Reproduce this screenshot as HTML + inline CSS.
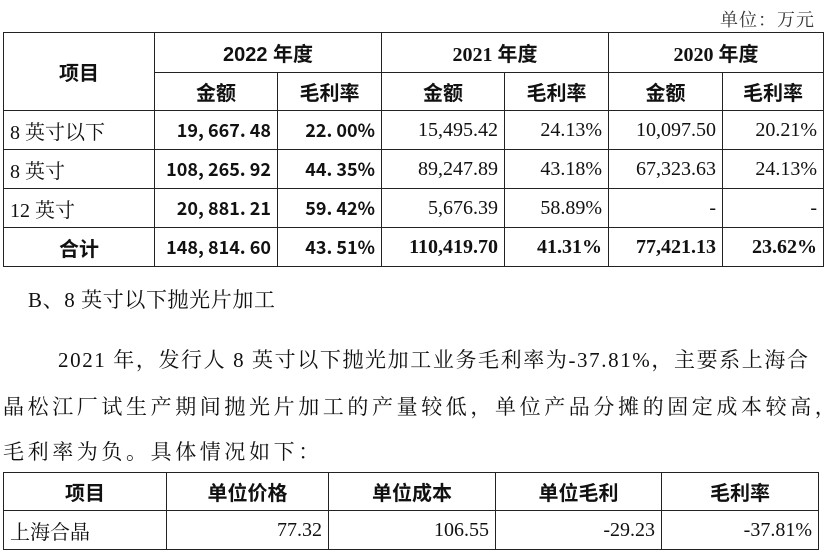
<!DOCTYPE html>
<html><head><meta charset="utf-8"><style>
body{margin:0;width:827px;height:555px;background:#fff;position:relative;overflow:hidden;font-family:"Liberation Serif","Noto Serif CJK SC",serif;color:#111}
table{position:absolute;border-collapse:collapse;table-layout:fixed}
td{border:1.3px solid #222;padding:0 6px;font-size:20px;white-space:nowrap}
.c{text-align:center}.r{text-align:right}.l{text-align:left}
.h{font-family:"Liberation Sans","Noto Sans CJK SC",sans-serif;font-weight:bold;font-size:20px}
.m{font-family:"Noto Sans CJK SC",sans-serif;font-weight:bold;font-size:18px}
.b{font-weight:bold}
.t{position:absolute;font-size:21px;white-space:nowrap;letter-spacing:3.6px}
</style></head><body>
<div class="t" style="right:12px;top:6px;font-size:18px;color:#333;letter-spacing:1px">单位：万元</div>
<table style="left:3px;top:32px;width:820px">
<colgroup><col style="width:151px"><col style="width:123px"><col style="width:104px"><col style="width:123px"><col style="width:104px"><col style="width:114px"><col style="width:101px"></colgroup>
<tr style="height:40px"><td rowspan="2" class="c h">项目</td><td colspan="2" class="c h">2022 年度</td><td colspan="2" class="c h" style="font-family:'Liberation Serif','Noto Sans CJK SC',serif">2021 年度</td><td colspan="2" class="c h" style="font-family:'Liberation Serif','Noto Sans CJK SC',serif">2020 年度</td></tr>
<tr style="height:38px"><td class="c h">金额</td><td class="c h">毛利率</td><td class="c h">金额</td><td class="c h">毛利率</td><td class="c h">金额</td><td class="c h">毛利率</td></tr>
<tr style="height:39px"><td class="l">8 英寸以下</td><td class="r m">19, 667. 48</td><td class="r m">22. 00%</td><td class="r">15,495.42</td><td class="r">24.13%</td><td class="r">10,097.50</td><td class="r">20.21%</td></tr>
<tr style="height:39px"><td class="l">8 英寸</td><td class="r m">108, 265. 92</td><td class="r m">44. 35%</td><td class="r">89,247.89</td><td class="r">43.18%</td><td class="r">67,323.63</td><td class="r">24.13%</td></tr>
<tr style="height:39px"><td class="l">12 英寸</td><td class="r m">20, 881. 21</td><td class="r m">59. 42%</td><td class="r">5,676.39</td><td class="r">58.89%</td><td class="r">-</td><td class="r">-</td></tr>
<tr style="height:39px"><td class="c h">合计</td><td class="r m">148, 814. 60</td><td class="r m">43. 51%</td><td class="r b">110,419.70</td><td class="r b">41.31%</td><td class="r b">77,421.13</td><td class="r b">23.62%</td></tr>
</table>
<div class="t" style="left:28px;top:284px;letter-spacing:0.6px">B、8 英寸以下抛光片加工</div>
<div class="t" style="left:58px;top:344px;letter-spacing:1.6px">2021 年，发行人 8 英寸以下抛光加工业务毛利率为-37.81%，主要系上海合</div>
<div class="t" style="left:3px;top:391px">晶松江厂试生产期间抛光片加工的产量较低，单位产品分摊的固定成本较高，</div>
<div class="t" style="left:3px;top:436px">毛利率为负。具体情况如下：</div>
<table style="left:3px;top:472px;width:815px">
<colgroup><col style="width:163px"><col style="width:162px"><col style="width:167px"><col style="width:166px"><col style="width:157px"></colgroup>
<tr style="height:38px"><td class="c h">项目</td><td class="c h">单位价格</td><td class="c h">单位成本</td><td class="c h">单位毛利</td><td class="c h">毛利率</td></tr>
<tr style="height:39px"><td class="l">上海合晶</td><td class="r">77.32</td><td class="r">106.55</td><td class="r">-29.23</td><td class="r">-37.81%</td></tr>
</table>
</body></html>
